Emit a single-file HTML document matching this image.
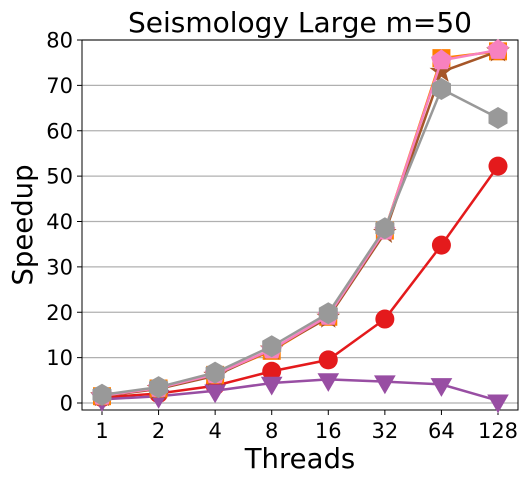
<!DOCTYPE html>
<html><head><meta charset="utf-8"><style>
body{margin:0;background:#fff;font-family:"Liberation Sans","DejaVu Sans",sans-serif}
svg text{font-family:"DejaVu Sans","Liberation Sans",sans-serif}
</style></head><body>
<svg id="c" width="529" height="483" xmlns="http://www.w3.org/2000/svg">
<text x="300" y="32" font-size="28" text-anchor="middle">Seismology Large m=50</text>
<g id="grid"></g><g id="axes"></g><g id="series"></g>
<text x="300" y="468" font-size="27.5" text-anchor="middle">Threads</text>
<text x="32" y="225" font-size="27.5" text-anchor="middle" transform="rotate(-90 32 225)">Speedup</text>
</svg>
<script>
const categories=["1","2","4","8","16","32","64","128"];
const yTicks=[0,10,20,30,40,50,60,70,80];
const red=[1.2,2.1,3.8,7,9.5,18.5,34.8,52.2];
const purple=[0.8,1.5,2.7,4.4,5.2,4.7,4.1,0.5];
const orange=[1.5,3.2,6.2,11.5,19,38,76,77.5];
const brown=[1.5,3.1,6,11.8,18.8,37.5,73,77.5];
const pink=[1.6,3.3,6.3,11.8,19.2,38,75.5,77.8];
const gray=[1.8,3.5,6.7,12.5,19.8,38.5,69.2,62.8];
const NS="http://www.w3.org/2000/svg";
const L=82,R=518,T=40,B=410;
const xs=i=>102+i*(396/7);
const ys=v=>403-v*(363/80);
function mk(tag,a,p){const e=document.createElementNS(NS,tag);for(const k in a)e.setAttribute(k,a[k]);p.appendChild(e);return e;}
const grid=document.getElementById('grid'),axes=document.getElementById('axes'),ser=document.getElementById('series');
yTicks.forEach(v=>{
 const g=mk('line',{x1:L,x2:R,y1:ys(v),y2:ys(v),stroke:'#b0b0b0','stroke-width':1.2},grid);
 
 
 mk('line',{x1:L-5,x2:L,y1:ys(v),y2:ys(v),stroke:'#000'},axes);
 const t=mk('text',{x:L-9,y:ys(v)+7.5,'font-size':21,'text-anchor':'end'},axes);t.textContent=v;
 
 
});
categories.forEach((c,i)=>{
 mk('line',{x1:xs(i),x2:xs(i),y1:B,y2:B+5,stroke:'#000'},axes);
 const t=mk('text',{x:xs(i),y:B+28,'font-size':21,'text-anchor':'middle'},axes);t.textContent=c;
 
 
});
const fr=mk('rect',{x:L,y:T,width:R-L,height:B-T,fill:'none',stroke:'#000','stroke-width':1},axes);


function poly(n,r,rot,cx,cy,inner){let p=[];const k=inner?n*2:n;for(let j=0;j<k;j++){const rr=inner&&j%2?inner:r;const a=rot+j*2*Math.PI/k;p.push((cx+rr*Math.sin(a)).toFixed(1)+','+(cy-rr*Math.cos(a)).toFixed(1));}return p.join(' ');}
function marker(type,cx,cy,col,g){
 if(type==='circle')return mk('circle',{cx,cy,r:9.5,fill:col},g);
 if(type==='square')return mk('rect',{x:cx-9,y:cy-9,width:18,height:18,fill:col},g);
 if(type==='tri')return mk('polygon',{points:poly(3,12.5,Math.PI,cx,cy),fill:col},g);
 if(type==='star')return mk('polygon',{points:poly(5,12.5,0,cx,cy,5),fill:col},g);
 if(type==='pent')return mk('polygon',{points:poly(5,11,0,cx,cy),fill:col},g);
 return mk('polygon',{points:poly(6,11,0,cx,cy),fill:col},g);
}
const list=[['red',red,'#e41a1c','circle'],['purple',purple,'#984ea3','tri'],['orange',orange,'#ff7f00','square'],['brown',brown,'#a65628','star'],['pink',pink,'#f781bf','pent'],['gray',gray,'#999999','hex']];
list.forEach(([n,d,col,m])=>{
 const g=mk('g',{},ser);
 
 
 mk('polyline',{points:d.map((v,i)=>xs(i)+','+ys(v)).join(' '),fill:'none',stroke:col,'stroke-width':2.5},g);
 d.forEach((v,i)=>{const e=marker(m,xs(i),ys(v),col,g);
  
  });
});
</script>
</body></html>
